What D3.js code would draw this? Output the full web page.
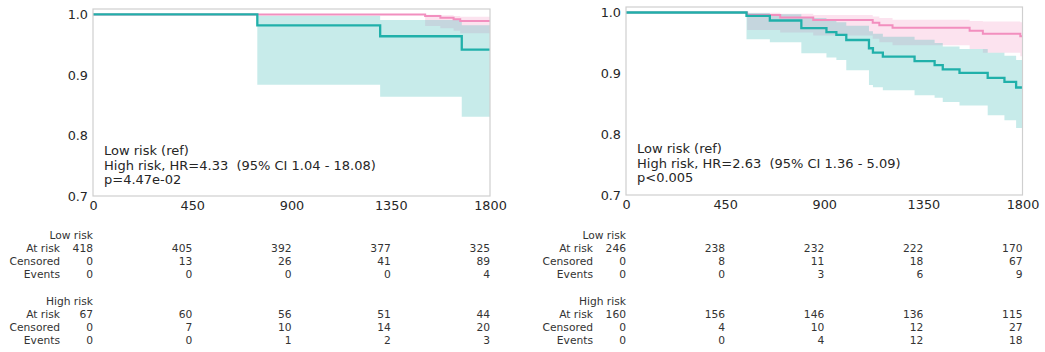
<!DOCTYPE html>
<html>
<head>
<meta charset="utf-8">
<script src="https://cdn.jsdelivr.net/npm/d3@7"></script>
<style>
  body { margin: 0; background: #fff; }
  svg { display: block; font-family: "DejaVu Sans", sans-serif; }
  text { white-space: pre; }
</style>
</head>
<body>
<svg id="chart" width="1045" height="352"></svg>
<script>
// ---- shared axis ticks and labels ----
const timeTicks = [0, 450, 900, 1350, 1800];
const survTicks = [0.7, 0.8, 0.9, 1.0];
const groupNames = ["Low risk", "High risk"];
const rowNames = ["At risk", "Censored", "Events"];

// ---- panel A: Kaplan–Meier steps (time, survival, 95% CI) ----
const aLowTime   = [0, 1506, 1575, 1635, 1665];
const aLowSurv   = [1, 0.9973, 0.9946, 0.9919, 0.9892];
const aLowLower  = [1, 0.981, 0.977, 0.973, 0.969];
const aLowUpper  = [1, 0.9996, 0.9987, 0.9975, 0.996];

const aHighTime  = [0, 745, 1302, 1672];
const aHighSurv  = [1, 0.982, 0.964, 0.942];
const aHighLower = [1, 0.884, 0.864, 0.831];
const aHighUpper = [1, 0.998, 0.991, 0.982];

const aNote = ["Low risk (ref)", "High risk, HR=4.33  (95% CI 1.04 - 18.08)", "p=4.47e-02"];

// panel A at-risk table
const aLowAtRisk    = [418, 405, 392, 377, 325];
const aLowCensored  = [0, 13, 26, 41, 89];
const aLowEvents    = [0, 0, 0, 0, 4];
const aHighAtRisk   = [67, 60, 56, 51, 44];
const aHighCensored = [0, 7, 10, 14, 20];
const aHighEvents   = [0, 0, 1, 2, 3];

// ---- panel B: Kaplan–Meier steps ----
const bLowTime   = [0, 550, 700, 850, 1120, 1150, 1210, 1560, 1620, 1790];
const bLowSurv   = [1, 0.9959, 0.9918, 0.9876, 0.9833, 0.979, 0.9747, 0.970, 0.965, 0.961];
const bLowLower  = [1, 0.971, 0.967, 0.962, 0.957, 0.951, 0.946, 0.940, 0.934, 0.928];
const bLowUpper  = [1, 0.9994, 0.998, 0.996, 0.9935, 0.991, 0.988, 0.986, 0.985, 0.984];

const bHighTime  = [0, 547, 653, 796, 910, 955, 1000, 1103, 1121, 1166, 1310, 1401, 1438, 1514, 1642, 1718, 1771];
const bHighSurv  = [1, 0.9945, 0.9868, 0.9742, 0.9676, 0.9631, 0.9548, 0.9412, 0.9339, 0.9273, 0.9202, 0.9136, 0.9064, 0.9008, 0.8926, 0.8860, 0.8767];
const bHighLower = [1, 0.956, 0.951, 0.933, 0.926, 0.922, 0.905, 0.881, 0.877, 0.872, 0.864, 0.860, 0.853, 0.847, 0.831, 0.823, 0.810];
const bHighUpper = [1, 0.9993, 0.997, 0.991, 0.987, 0.984, 0.978, 0.969, 0.965, 0.960, 0.955, 0.950, 0.944, 0.940, 0.934, 0.929, 0.922];

const bNote = ["Low risk (ref)", "High risk, HR=2.63  (95% CI 1.36 - 5.09)", "p<0.005"];

// panel B at-risk table
const bLowAtRisk    = [246, 238, 232, 222, 170];
const bLowCensored  = [0, 8, 11, 18, 67];
const bLowEvents    = [0, 0, 3, 6, 9];
const bHighAtRisk   = [160, 156, 146, 136, 115];
const bHighCensored = [0, 4, 10, 12, 27];
const bHighEvents   = [0, 0, 4, 12, 18];

// ---- styling ----
const lowColor = "#f28fbf";
const highColor = "#20b0aa";
const frameColor = "#cfcfcf";
const textColor = "#262626";
const tableColor = "#333333";
const tMax = 1800;

const panels = [
  {
    box: { left: 93, right: 490, top: 9, bottom: 196 },
    low:  { time: aLowTime,  surv: aLowSurv,  lower: aLowLower,  upper: aLowUpper },
    high: { time: aHighTime, surv: aHighSurv, lower: aHighLower, upper: aHighUpper },
    note: aNote,
    table: [
      [aLowAtRisk, aLowCensored, aLowEvents],
      [aHighAtRisk, aHighCensored, aHighEvents]
    ]
  },
  {
    box: { left: 626, right: 1022.5, top: 7, bottom: 195 },
    low:  { time: bLowTime,  surv: bLowSurv,  lower: bLowLower,  upper: bLowUpper },
    high: { time: bHighTime, surv: bHighSurv, lower: bHighLower, upper: bHighUpper },
    note: bNote,
    table: [
      [bLowAtRisk, bLowCensored, bLowEvents],
      [bHighAtRisk, bHighCensored, bHighEvents]
    ]
  }
];

const svg = d3.select("#chart");

function stepPoints(g) {
  const pts = g.time.map((t, i) => ({ t, s: g.surv[i], lo: g.lower[i], hi: g.upper[i] }));
  const last = pts[pts.length - 1];
  pts.push({ t: tMax, s: last.s, lo: last.lo, hi: last.hi });
  return pts;
}

panels.forEach(p => {
  const b = p.box;
  const x = d3.scaleLinear().domain([0, tMax]).range([b.left, b.right]);
  const y = d3.scaleLinear().domain([0.7, 1.009]).range([b.bottom, b.top]);
  const g = svg.append("g");

  const clipId = "clip" + b.left;
  svg.append("clipPath").attr("id", clipId)
    .append("rect").attr("x", b.left).attr("y", b.top)
    .attr("width", b.right - b.left).attr("height", b.bottom - b.top);

  const plot = g.append("g").attr("clip-path", `url(#${clipId})`);

  const area = d3.area().curve(d3.curveStepAfter)
    .x(d => x(d.t)).y0(d => y(d.lo)).y1(d => y(d.hi));
  const line = d3.line().curve(d3.curveStepAfter)
    .x(d => x(d.t)).y(d => y(d.s));

  const low = stepPoints(p.low);
  const high = stepPoints(p.high);

  // confidence bands underneath both curves
  plot.append("path").datum(low).attr("d", area)
    .attr("fill", lowColor).attr("fill-opacity", 0.25);
  plot.append("path").datum(high).attr("d", area)
    .attr("fill", highColor).attr("fill-opacity", 0.25);

  // survival curves
  plot.append("path").datum(low).attr("d", line)
    .attr("fill", "none").attr("stroke", lowColor).attr("stroke-width", 2);
  plot.append("path").datum(high).attr("d", line)
    .attr("fill", "none").attr("stroke", highColor).attr("stroke-width", 2.3);

  // frame
  g.append("rect")
    .attr("x", b.left).attr("y", b.top)
    .attr("width", b.right - b.left).attr("height", b.bottom - b.top)
    .attr("fill", "none").attr("stroke", frameColor).attr("stroke-width", 1.2);

  // axes (labels only, no tick marks)
  const xAxis = d3.axisBottom(x).tickValues(timeTicks).tickSize(0).tickPadding(5)
    .tickFormat(d3.format("d"));
  const xg = g.append("g").attr("transform", `translate(0,${b.bottom})`).call(xAxis);
  const yAxis = d3.axisLeft(y).tickValues(survTicks).tickSize(0).tickPadding(5)
    .tickFormat(d3.format(".1f"));
  const yg = g.append("g").attr("transform", `translate(${b.left},0)`).call(yAxis);
  [xg, yg].forEach(a => {
    a.select(".domain").remove();
    a.selectAll("text").attr("fill", textColor)
      .style("font-size", "12.8px").style("font-family", "DejaVu Sans, sans-serif");
  });

  // hazard ratio annotation
  g.append("g").selectAll("text").data(p.note).join("text")
    .attr("x", b.left + 11)
    .attr("y", (d, i) => b.top + 146 + i * 14.5)
    .attr("fill", textColor).style("font-size", "13px")
    .text(d => d);

  // number-at-risk table
  const groupBase = [239, 305];
  const rowGap = 13;
  p.table.forEach((rows, gi) => {
    const t = g.append("g").style("font-size", "10.7px").attr("fill", tableColor);
    t.append("text").attr("x", x(0)).attr("y", groupBase[gi])
      .attr("text-anchor", "end").text(groupNames[gi]);
    rows.forEach((vals, ri) => {
      const yy = groupBase[gi] + (ri + 1) * rowGap;
      t.append("text").attr("x", x(0) - 33).attr("y", yy)
        .attr("text-anchor", "end").text(rowNames[ri]);
      t.selectAll(null).data(vals).join("text")
        .attr("x", (d, k) => x(timeTicks[k]))
        .attr("y", yy)
        .attr("text-anchor", "end")
        .text(d => d);
    });
  });
});
</script>
</body>
</html>
